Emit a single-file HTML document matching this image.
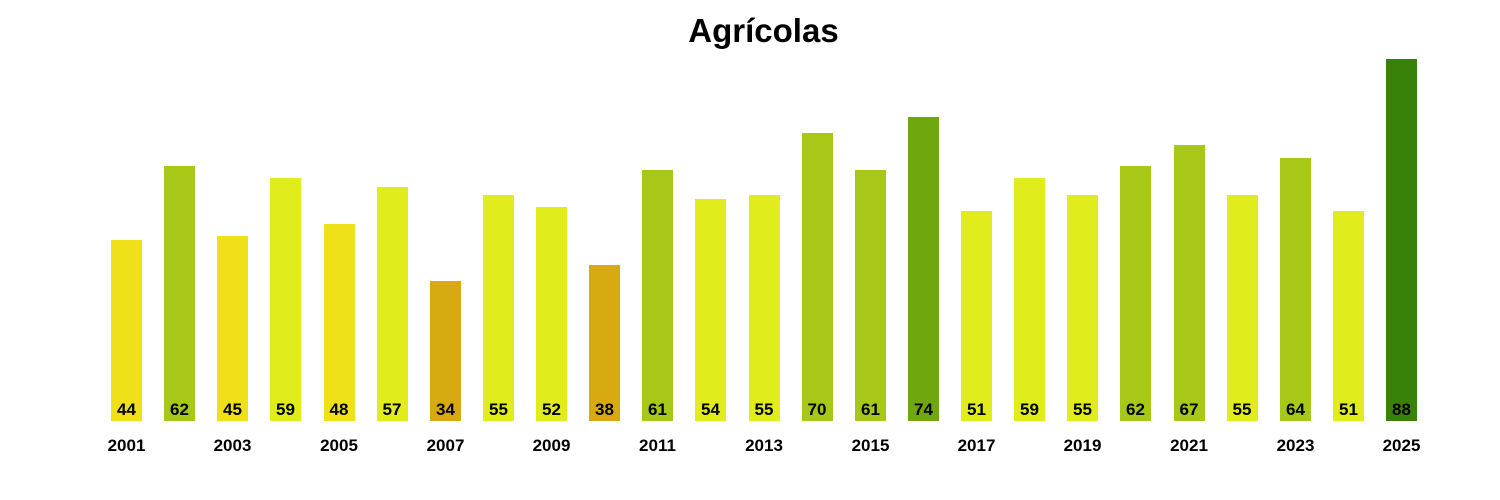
<!DOCTYPE html>
<html><head><meta charset="utf-8"><style>
body{margin:0;width:1500px;height:500px;background:#fff;position:relative;overflow:hidden;font-family:"Liberation Sans",Arial,sans-serif}
.t{position:absolute;left:0;width:1527px;text-align:center;top:12px;font-size:33px;font-weight:bold;color:#000}
.b{position:absolute;width:31px;bottom:79px;text-align:center;font-weight:bold;font-size:17px;color:#000;line-height:20px;display:flex;align-items:flex-end;justify-content:center}
.b span{display:block;width:40px;text-align:center;margin-bottom:1px;flex:none}
.y{position:absolute;width:60px;text-align:center;font-weight:bold;font-size:17px;top:436px;color:#000}
.a{background:#D8AA12}.g{background:#F0E01A}.l{background:#E0EC1C}.m{background:#A8C818}.d{background:#6EA80E}.e{background:#38820A}
</style></head><body>
<div class="t">Agrícolas</div>
<div class="b g" style="left:111px;height:181px"><span>44</span></div>
<div class="b m" style="left:164px;height:255px"><span>62</span></div>
<div class="b g" style="left:217px;height:185px"><span>45</span></div>
<div class="b l" style="left:270px;height:243px"><span>59</span></div>
<div class="b g" style="left:323.5px;height:197px"><span>48</span></div>
<div class="b l" style="left:376.5px;height:234px"><span>57</span></div>
<div class="b a" style="left:430px;height:140px"><span>34</span></div>
<div class="b l" style="left:483px;height:226px"><span>55</span></div>
<div class="b l" style="left:536px;height:214px"><span>52</span></div>
<div class="b a" style="left:589px;height:156px"><span>38</span></div>
<div class="b m" style="left:642px;height:251px"><span>61</span></div>
<div class="b l" style="left:695px;height:222px"><span>54</span></div>
<div class="b l" style="left:748.5px;height:226px"><span>55</span></div>
<div class="b m" style="left:801.5px;height:288px"><span>70</span></div>
<div class="b m" style="left:855px;height:251px"><span>61</span></div>
<div class="b d" style="left:908px;height:304px"><span>74</span></div>
<div class="b l" style="left:961px;height:210px"><span>51</span></div>
<div class="b l" style="left:1014px;height:243px"><span>59</span></div>
<div class="b l" style="left:1067px;height:226px"><span>55</span></div>
<div class="b m" style="left:1120px;height:255px"><span>62</span></div>
<div class="b m" style="left:1173.5px;height:276px"><span>67</span></div>
<div class="b l" style="left:1226.5px;height:226px"><span>55</span></div>
<div class="b m" style="left:1280px;height:263px"><span>64</span></div>
<div class="b l" style="left:1333px;height:210px"><span>51</span></div>
<div class="b e" style="left:1386px;height:362px"><span>88</span></div>
<div class="y" style="left:96.5px">2001</div>
<div class="y" style="left:202.5px">2003</div>
<div class="y" style="left:309px">2005</div>
<div class="y" style="left:415.5px">2007</div>
<div class="y" style="left:521.5px">2009</div>
<div class="y" style="left:627.5px">2011</div>
<div class="y" style="left:734px">2013</div>
<div class="y" style="left:840.5px">2015</div>
<div class="y" style="left:946.5px">2017</div>
<div class="y" style="left:1052.5px">2019</div>
<div class="y" style="left:1159px">2021</div>
<div class="y" style="left:1265.5px">2023</div>
<div class="y" style="left:1371.5px">2025</div>
</body></html>
